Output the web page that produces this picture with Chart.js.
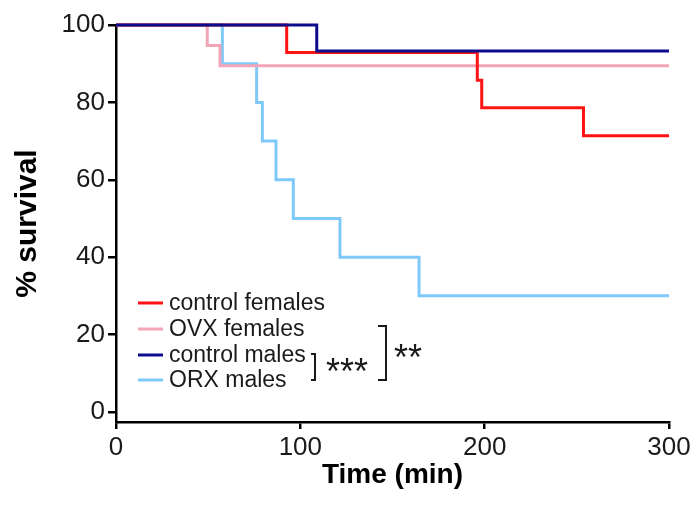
<!DOCTYPE html>
<html>
<head>
<meta charset="utf-8">
<script src="https://cdn.jsdelivr.net/npm/chart.js@4/dist/chart.umd.min.js"></script>
<style>
  html, body { margin: 0; padding: 0; background: #fff; }
  #wrap { width: 700px; height: 507px; position: relative; }
</style>
</head>
<body>
<div id="wrap"><canvas id="c" width="700" height="507"></canvas></div>
<script>
// ---- Data ----
const seriesNames = ['control females', 'OVX females', 'control males', 'ORX males'];
const seriesColors = ['#ff1414', '#f2a5b6', '#0c0c8c', '#7fc8fa'];

const controlFemalesTime = [0, 92.6, 196, 198.4, 253.6, 300];
const controlFemalesSurv = [100, 92.9, 85.7, 78.6, 71.4, 71.4];

const ovxFemalesTime = [0, 49.5, 56.4, 300];
const ovxFemalesSurv = [100, 94.7, 89.5, 89.5];

const controlMalesTime = [0, 108.9, 300];
const controlMalesSurv = [100, 93.3, 93.3];

const orxMalesTime = [0, 57.7, 76.3, 79.4, 86.8, 96.2, 121.5, 164.4, 300];
const orxMalesSurv = [100, 90, 80, 70, 60, 50, 40, 30, 30];

const xTicks = [0, 100, 200, 300];
const yTicks = [0, 20, 40, 60, 80, 100];

const sigSmall = '***';
const sigLarge = '**';

function pts(t, v) { return t.map((x, i) => ({ x: x, y: v[i] })); }

const seriesData = [
  pts(controlFemalesTime, controlFemalesSurv),
  pts(ovxFemalesTime, ovxFemalesSurv),
  pts(controlMalesTime, controlMalesSurv),
  pts(orxMalesTime, orxMalesSurv)
];
const drawOrder = [1, 2, 0, 3];

const datasets = seriesNames.map((name, i) => ({
  label: name,
  data: seriesData[i],
  borderColor: seriesColors[i],
  backgroundColor: seriesColors[i],
  borderWidth: 3,
  pointRadius: 0,
  stepped: 'before',
  fill: false,
  clip: 6,
  order: drawOrder[i]
}));

const FONT = "'Liberation Sans', Arial, Helvetica, sans-serif";

const overlayPlugin = {
  id: 'overlay',
  afterDatasetsDraw(chart) {
    const ctx = chart.ctx;
    ctx.save();
    // legend
    const rows = [303, 329, 355, 380];
    ctx.font = '23px ' + FONT;
    ctx.textBaseline = 'middle';
    ctx.textAlign = 'left';
    chart.data.datasets.forEach((ds, i) => {
      const y = rows[i];
      ctx.strokeStyle = ds.borderColor;
      ctx.lineWidth = 3;
      ctx.beginPath();
      ctx.moveTo(138, y);
      ctx.lineTo(163, y);
      ctx.stroke();
      ctx.fillStyle = '#1a1a1a';
      ctx.fillText(ds.label, 169, y + 1);
    });
    // significance brackets
    ctx.strokeStyle = '#1a1a1a';
    ctx.lineWidth = 2;
    ctx.beginPath();
    ctx.moveTo(311, 354); ctx.lineTo(315, 354); ctx.lineTo(315, 380); ctx.lineTo(311, 380);
    ctx.stroke();
    ctx.beginPath();
    ctx.moveTo(378, 326); ctx.lineTo(386, 326); ctx.lineTo(386, 380); ctx.lineTo(378, 380);
    ctx.stroke();
    ctx.fillStyle = '#1a1a1a';
    ctx.font = '36px ' + FONT;
    ctx.textBaseline = 'alphabetic';
    ctx.fillText(sigSmall, 326, 384);
    ctx.fillText(sigLarge, 394, 370);
    ctx.restore();
  }
};

new Chart(document.getElementById('c'), {
  type: 'line',
  data: { datasets: datasets },
  plugins: [overlayPlugin],
  options: {
    responsive: false,
    animation: false,
    devicePixelRatio: 1,
    layout: { padding: { left: 0, right: 31, top: 25, bottom: 0 } },
    plugins: { legend: { display: false }, tooltip: { enabled: false } },
    scales: {
      x: {
        type: 'linear',
        min: 0, max: 300,
        afterBuildTicks(scale) { scale.ticks = xTicks.map(v => ({ value: v })); },
        afterFit(scale) { scale.height = 85; },
        border: { display: true, color: '#000', width: 2.5 },
        grid: { drawOnChartArea: false, drawTicks: true, tickLength: 7, color: '#000', lineWidth: 2.5 },
        ticks: { color: '#1a1a1a', font: { family: FONT, size: 26 }, padding: 3, maxRotation: 0 },
        title: { display: true, text: 'Time (min)', color: '#000', font: { family: FONT, size: 28, weight: 'bold' }, padding: { top: 0, bottom: 15 } }
      },
      y: {
        type: 'linear',
        min: -2.6, max: 100,
        afterBuildTicks(scale) { scale.ticks = yTicks.map(v => ({ value: v })); },
        afterFit(scale) { scale.width = 116; },
        border: { display: true, color: '#000', width: 2.5 },
        grid: { drawOnChartArea: false, drawTicks: true, tickLength: 8, color: '#000', lineWidth: 2.5 },
        ticks: { color: '#1a1a1a', font: { family: FONT, size: 26 }, padding: 3 },
        title: { display: true, text: '% survival', color: '#000', font: { family: FONT, size: 30, weight: 'bold' }, padding: { top: 10, bottom: 0 } }
      }
    }
  }
});
</script>
</body>
</html>
